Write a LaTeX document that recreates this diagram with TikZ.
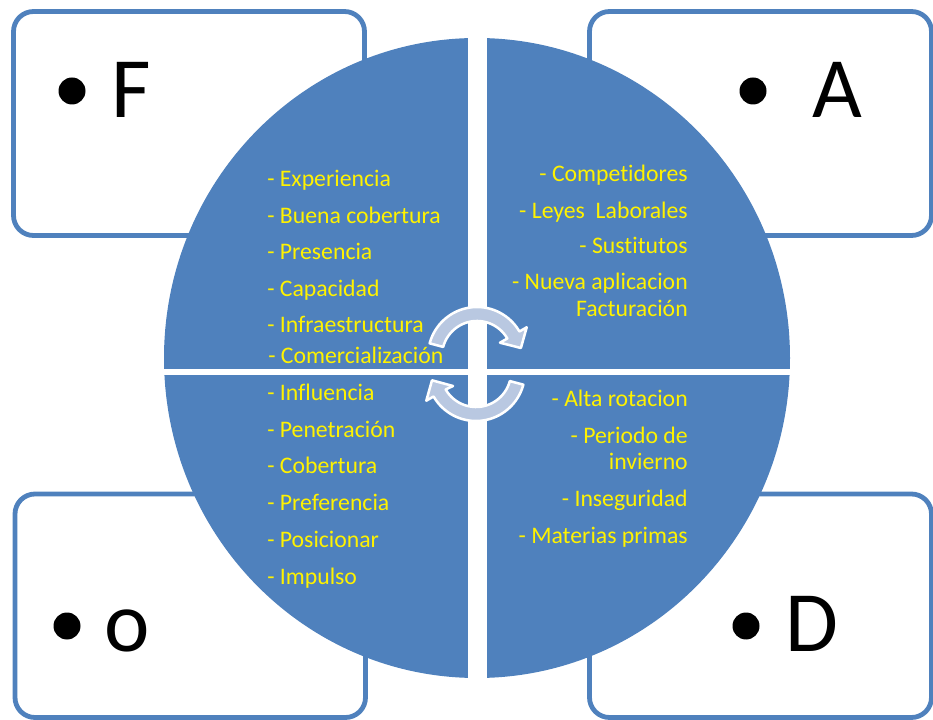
\documentclass[tikz,border=0pt]{standalone}
\usepackage{fontspec}
\setmainfont{Carlito}[Ligatures={NoCommon,NoContextual,NoRequired}]
\definecolor{qblue}{RGB}{79,129,189}
\definecolor{arrowfill}{RGB}{185,200,225}
\begin{document}
\begin{tikzpicture}[x=0.75pt,y=-0.75pt,
  box/.style={draw=qblue, line width=3.6pt, fill=white, rounded corners=15pt},
  item/.style={text=yellow, font=\fontsize{17.8}{21}\selectfont, inner sep=0pt},
  big/.style={font=\fontsize{64.5}{70}\selectfont, inner sep=0pt, anchor=base west},
  dotb/.style={circle, fill=black, minimum size=20.25pt, inner sep=0pt},
  cyc/.style={fill=arrowfill, draw=white, line width=1.9pt, line join=round}]
\useasboundingbox (0,0) rectangle (933,720);
% corner boxes
\draw[box] (13.5,11.5) rectangle (364.5,235.5);
\draw[box] (589.5,11.5) rectangle (931.5,235.5);
\draw[box] (15,494) rectangle (365.5,717.5);
\draw[box] (589.5,494) rectangle (931.5,717.5);
% letters
\node[dotb] (bF) at (72,91) {};
\node[big] (F) at (111,118) {F};
\node[dotb] (bA) at (753,91) {};
\node[big] (A) at (812,118) {A};
\node[dotb] (bO) at (67,626) {};
\node[big] (O) at (104,652) {o};
\node[dotb] (bD) at (746,626) {};
\node[big] (D) at (785,652) {D};
% circle
\fill[qblue] (477,358) ellipse [x radius=313, y radius=320];
\fill[white] (467.5,25) rectangle (487,695);
\fill[white] (150,369.5) rectangle (805,375);
% cycle arrows
\path[cyc] plot[domain=165:30, samples=40] ({477+49*cos(\x)},{356-49*sin(\x)})
  -- (526.7,327.3) -- (520.9,348) -- (500,342.7)
  -- plot[domain=30:165, samples=40] ({477+35*cos(\x)},{356-35*sin(\x)}) -- cycle;
\path[cyc] plot[domain=345:210, samples=40] ({476+49*cos(\x)},{372-49*sin(\x)})
  -- (426.3,400.7) -- (432,380.3) -- (453,386)
  -- plot[domain=210:345, samples=40] ({476+35*cos(\x)},{372-35*sin(\x)}) -- cycle;
% top-left items
\node[item, anchor=base west] (f1) at (267,187) {- Experiencia};
\node[item, anchor=base west] (f2) at (267,223.3) {- Buena cobertura};
\node[item, anchor=base west] (f3) at (267,259.5) {- Presencia};
\node[item, anchor=base west] (f4) at (267,296.5) {- Capacidad};
\node[item, anchor=base west] (f5) at (267,332.5) {- Infraestructura};
\node[item, anchor=base west] (f6) at (268,363.5) {- Comercialización};
% bottom-left items
\node[item, anchor=base west] (o1) at (267,401) {- Influencia};
\node[item, anchor=base west] (o2) at (267,437.5) {- Penetración};
\node[item, anchor=base west] (o3) at (267,474) {- Cobertura};
\node[item, anchor=base west] (o4) at (267,511) {- Preferencia};
\node[item, anchor=base west] (o5) at (267,548) {- Posicionar};
\node[item, anchor=base west] (o6) at (267,585) {- Impulso};
% top-right items
\node[item, anchor=base east] (a1) at (688,181.7) {- Competidores};
\node[item, anchor=base east] (a2) at (688,218.3) {- Leyes~ Laborales};
\node[item, anchor=base east] (a3) at (688,253.5) {- Sustitutos};
\node[item, anchor=base east] (a4) at (688,290) {- Nueva aplicacion};
\node[item, anchor=base east] (a5) at (688,316.7) {Facturación};
% bottom-right items
\node[item, anchor=base east] (d1) at (688,406.7) {- Alta rotacion};
\node[item, anchor=base east] (d2) at (688,443.3) {- Periodo de};
\node[item, anchor=base east] (d3) at (688,470) {invierno};
\node[item, anchor=base east] (d4) at (688,506.7) {- Inseguridad};
\node[item, anchor=base east] (d5) at (688,543.3) {- Materias primas};
\end{tikzpicture}
\end{document}
